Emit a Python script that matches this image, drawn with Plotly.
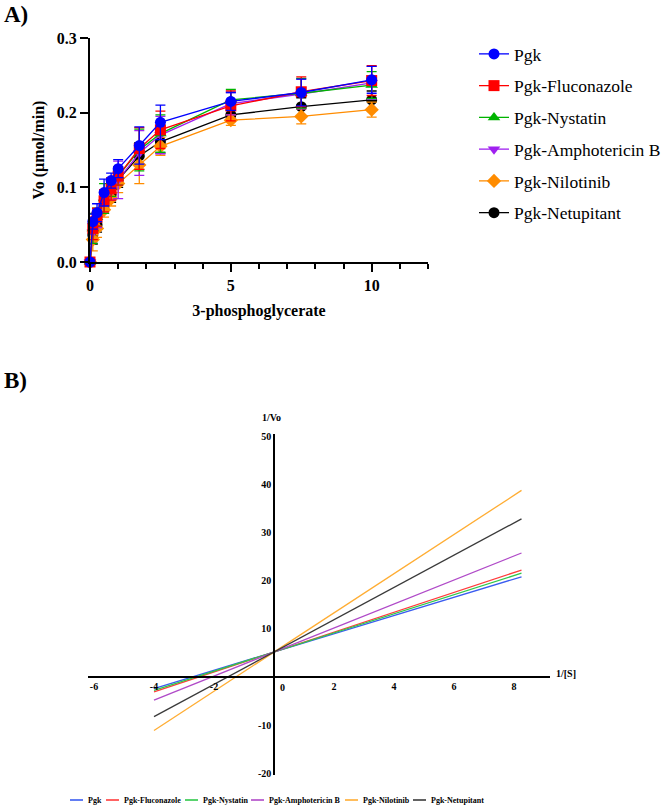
import plotly.graph_objects as go

# ---------------- data ----------------
names = ["Pgk", "Pgk-Fluconazole", "Pgk-Nystatin", "Pgk-Amphotericin B", "Pgk-Nilotinib", "Pgk-Netupitant"]
colors_a = ["#0000ff", "#ff0000", "#00b400", "#a020f0", "#ff8c00", "#000000"]
symbols_a = ["circle", "square", "triangle-up", "triangle-down", "diamond", "circle"]
colors_b = ["#3a5cf0", "#ff3b3b", "#2fc84a", "#b04ac8", "#ffad33", "#3a3a3a"]

substrate = [0, 0.1, 0.25, 0.5, 0.75, 1.0, 1.75, 2.5, 5, 7.5, 10]

vo_pgk = [0, 0.054, 0.066, 0.093, 0.109, 0.125, 0.156, 0.187, 0.215, 0.227, 0.244]
vo_flu = [0, 0.045, 0.060, 0.082, 0.098, 0.115, 0.152, 0.177, 0.209, 0.228, 0.243]
vo_nys = [0, 0.045, 0.060, 0.085, 0.100, 0.115, 0.150, 0.172, 0.217, 0.226, 0.237]
vo_amp = [0, 0.040, 0.058, 0.080, 0.095, 0.110, 0.146, 0.170, 0.212, 0.225, 0.240]
vo_nil = [0, 0.030, 0.045, 0.070, 0.085, 0.105, 0.130, 0.155, 0.190, 0.195, 0.204]
vo_net = [0, 0.036, 0.050, 0.075, 0.090, 0.110, 0.142, 0.161, 0.197, 0.208, 0.217]

err_pgk = [0, 0.010, 0.012, 0.018, 0.010, 0.012, 0.025, 0.023, 0.012, 0.018, 0.018]
err_flu = [0, 0.015, 0.012, 0.015, 0.015, 0.012, 0.028, 0.025, 0.020, 0.020, 0.020]
err_nys = [0, 0.020, 0.012, 0.020, 0.012, 0.012, 0.028, 0.025, 0.014, 0.020, 0.018]
err_amp = [0, 0.015, 0.012, 0.015, 0.012, 0.025, 0.030, 0.025, 0.015, 0.020, 0.022]
err_nil = [0, 0.015, 0.012, 0.010, 0.010, 0.012, 0.025, 0.012, 0.007, 0.010, 0.010]
err_net = [0, 0.012, 0.010, 0.010, 0.010, 0.010, 0.018, 0.015, 0.008, 0.012, 0.012]

vo_all = [vo_pgk, vo_flu, vo_nys, vo_amp, vo_nil, vo_net]
err_all = [err_pgk, err_flu, err_nys, err_amp, err_nil, err_net]

# Lineweaver-Burk lines (1/Vo = slope * 1/[S] + intercept)
lb_slopes = [1.90, 2.07, 1.99, 2.50, 4.08, 3.36]
lb_intercepts = [5.2, 5.2, 5.2, 5.2, 5.2, 5.2]
lb_x = [-4, 8.25]

xa_ticks = [0, 5, 10]
ya_ticks = [0, 0.1, 0.2, 0.3]
xb_ticks = [-6, -4, -2, 2, 4, 6, 8]
yb_ticks = [-20, -10, 10, 20, 30, 40, 50]

SERIF = "Liberation Serif, Times New Roman, serif"
W, H = 667, 807

# layout helpers for the hand-placed bottom legend of panel B (pixel positions)
LEG2_Y = 800
LEG2_LINE_X = [70, 106, 185, 251, 345, 413]
LEG2_LINE_LEN = 13

fig = go.Figure()

# ---------------- panel A ----------------
for i in reversed(range(len(names))):
    fig.add_trace(go.Scatter(
        x=substrate, y=vo_all[i], name=names[i],
        mode="lines+markers",
        line=dict(color=colors_a[i], width=1.3),
        marker=dict(color=colors_a[i], symbol=symbols_a[i], size=11),
        error_y=dict(type="data", array=err_all[i], color=colors_a[i], thickness=1.3, width=5),
        xaxis="x", yaxis="y", legend="legend", legendgroup="a%d" % i, legendrank=i + 1,
        cliponaxis=False,
    ))

# ---------------- panel B ----------------
for i in range(len(names)):
    fig.add_trace(go.Scatter(
        x=lb_x, y=[lb_slopes[i] * v + lb_intercepts[i] for v in lb_x], name=names[i],
        mode="lines", line=dict(color=colors_b[i], width=1.3),
        xaxis="x2", yaxis="y2", showlegend=False,
    ))

def px_x(p):
    return p / W

def px_y(p):
    return (H - p) / H

axis_font_a = dict(family=SERIF, size=16, color="black")

fig.update_layout(
    width=W, height=H, margin=dict(l=0, r=0, t=0, b=0, autoexpand=False),
    paper_bgcolor="white", plot_bgcolor="white",
    font=dict(family=SERIF, color="black"),
    xaxis=dict(
        domain=[px_x(90), px_x(428)], range=[0, 12], anchor="y",
        showline=True, linecolor="black", linewidth=2,
        ticks="outside", ticklen=8, tickwidth=2, tickcolor="black",
        tickvals=xa_ticks, ticktext=["<b>%g</b>" % v for v in xa_ticks],
        tickfont=axis_font_a, showgrid=False, zeroline=False,
        minor=dict(dtick=1, ticks="outside", ticklen=5, tickwidth=2, tickcolor="black", showgrid=False),
        title=dict(text="<b>3-phosphoglycerate</b>", font=axis_font_a, standoff=12),
        automargin=False,
    ),
    yaxis=dict(
        domain=[px_y(262), px_y(38)], range=[0, 0.3], anchor="x",
        showline=True, linecolor="black", linewidth=2,
        ticks="outside", ticklen=8, tickwidth=2, tickcolor="black",
        tickvals=ya_ticks, ticktext=["<b>%.1f</b>" % v for v in ya_ticks],
        tickfont=axis_font_a, showgrid=False, zeroline=False,
        title=dict(text="<b>Vo (µmol/min)</b>", font=axis_font_a, standoff=8),
        automargin=False,
    ),
    xaxis2=dict(
        domain=[px_x(88), px_x(550)], range=[-6.2, 9.2], anchor="free", position=px_y(677),
        showline=True, linecolor="black", linewidth=1.5, ticks="",
        tickvals=xb_ticks, ticktext=["<b>%g</b>" % v for v in xb_ticks],
        tickfont=dict(family=SERIF, size=10, color="black"),
        showgrid=False, zeroline=False, automargin=False,
    ),
    yaxis2=dict(
        domain=[px_y(775), px_y(434)], range=[-20.4, 50.6], anchor="free", position=px_x(274),
        showline=True, linecolor="black", linewidth=1.5, ticks="",
        tickvals=yb_ticks, ticktext=["<b>%g</b>" % v for v in yb_ticks],
        tickfont=dict(family=SERIF, size=10, color="black"),
        showgrid=False, zeroline=False, automargin=False,
    ),
    legend=dict(
        x=px_x(474), y=px_y(36), xanchor="left", yanchor="top",
        font=dict(family=SERIF, size=17.5, color="black"),
        tracegroupgap=6, bgcolor="rgba(0,0,0,0)",
    ),
    showlegend=True,
)

fig.add_annotation(text="<b>A)</b>", x=px_x(2), y=px_y(14), xref="paper", yref="paper",
                   xanchor="left", yanchor="middle", showarrow=False,
                   font=dict(family=SERIF, size=23, color="black"))
fig.add_annotation(text="<b>B)</b>", x=px_x(2), y=px_y(380), xref="paper", yref="paper",
                   xanchor="left", yanchor="middle", showarrow=False,
                   font=dict(family=SERIF, size=23, color="black"))
fig.add_annotation(text="<b>1/Vo</b>", x=0, y=50.6, xref="x2", yref="y2", yshift=17,
                   xanchor="center", yanchor="middle", xshift=-3, showarrow=False,
                   font=dict(family=SERIF, size=10, color="black"))
fig.add_annotation(text="<b>1/[S]</b>", x=9.2, y=0, xref="x2", yref="y2", yshift=4,
                   xanchor="left", yanchor="middle", xshift=4, showarrow=False,
                   font=dict(family=SERIF, size=10, color="black"))
fig.add_annotation(text="<b>0</b>", x=0, y=0, xref="x2", yref="y2", yshift=-10,
                   xanchor="center", yanchor="middle", xshift=8, showarrow=False,
                   font=dict(family=SERIF, size=10, color="black"))

# bottom legend of panel B (line sample + label per series)
for i in range(len(names)):
    x0 = LEG2_LINE_X[i]
    fig.add_shape(type="line", xref="paper", yref="paper",
                  x0=px_x(x0), x1=px_x(x0 + LEG2_LINE_LEN), y0=px_y(LEG2_Y), y1=px_y(LEG2_Y),
                  line=dict(color=colors_b[i], width=1.6))
    fig.add_annotation(text="<b>%s</b>" % names[i], x=px_x(x0 + LEG2_LINE_LEN + 3), y=px_y(LEG2_Y),
                       xref="paper", yref="paper", xanchor="left", yanchor="middle",
                       showarrow=False, font=dict(family=SERIF, size=8, color="black"))

fig.write_html("out.html")
